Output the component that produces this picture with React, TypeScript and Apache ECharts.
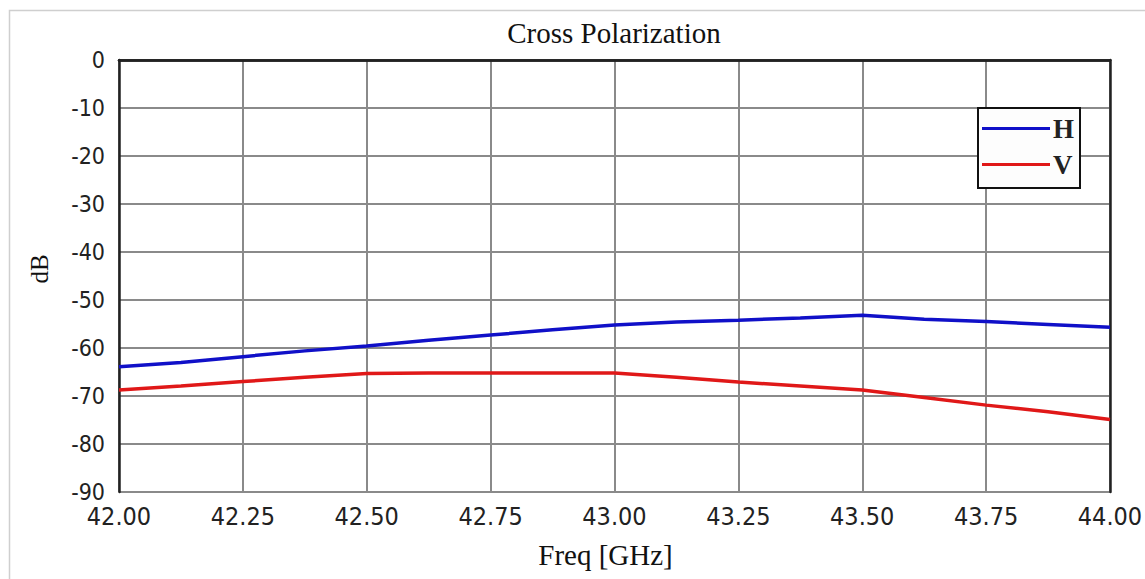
import React, { useEffect, useRef } from "react";
import * as echarts from "echarts";

const freqGHz = [42, 42.125, 42.25, 42.375, 42.5, 42.625, 42.75, 42.875, 43, 43.125, 43.25, 43.375, 43.5, 43.625, 43.75, 43.875, 44];
const hValues = [-63.9, -63.0, -61.8, -60.6, -59.6, -58.4, -57.3, -56.2, -55.2, -54.6, -54.2, -53.75, -53.2, -54.0, -54.5, -55.1, -55.7];
const vValues = [-68.75, -67.9, -67.0, -66.1, -65.3, -65.2, -65.2, -65.2, -65.2, -66.1, -67.1, -67.9, -68.75, -70.3, -71.9, -73.3, -74.9];
const seriesNames = ["H", "V"];
const titleText = "Cross Polarization";
const xName = "Freq [GHz]";
const yName = "dB";

const sansNarrow = '"DejaVu Sans Condensed", "Liberation Sans", sans-serif';
const serif = '"Liberation Serif", "DejaVu Serif", serif';

export default function App() {
  const ref = useRef<HTMLDivElement>(null);
  useEffect(() => {
    if (!ref.current) return;
    const chart = echarts.init(ref.current, null, { renderer: "svg", width: 1145, height: 579 });
    const pair = (vals: number[]) => freqGHz.map((f, i) => [f, vals[i]]);
    chart.setOption({
      animation: false,
      backgroundColor: "#ffffff",
      graphic: [
        {
          type: "rect",
          shape: { x: 9.5, y: 10.5, width: 1300, height: 700 },
          style: { fill: "none", stroke: "#cfcfcf", lineWidth: 1.5 },
          z: 0,
        },
        {
          type: "text",
          x: 614,
          y: 33,
          style: {
            text: titleText,
            fontFamily: serif,
            fontSize: 29,
            fill: "#111",
            textAlign: "center",
            textVerticalAlign: "middle",
          },
        },
      ],
      grid: { left: 119, top: 60, right: 35, bottom: 87, containLabel: false, outerBoundsMode: "none" },
      legend: {
        orient: "vertical",
        left: 978,
        top: 108,
        data: seriesNames.map((n) => ({ name: n, icon: "rect" })),
        itemWidth: 68,
        itemHeight: 3,
        itemGap: 9,
        padding: [7, 6, 10, 4],
        backgroundColor: "#fdfdfd",
        borderColor: "#111",
        borderWidth: 2,
        textStyle: { fontFamily: serif, fontSize: 27, fontWeight: "bold", color: "#222", lineHeight: 26, padding: [0, 0, 0, -2] },
      },
      xAxis: [
        {
          type: "value",
          min: 42,
          max: 44,
          interval: 0.25,
          name: xName,
          nameLocation: "middle",
          nameGap: 48,
          nameTextStyle: { fontFamily: serif, fontSize: 29, color: "#111", padding: [0, 18, 0, 0] },
          axisLine: { show: true, lineStyle: { color: "#222", width: 2.5 } },
          axisTick: { show: false },
          axisLabel: {
            fontFamily: sansNarrow,
            fontSize: 25,
            color: "#222",
            margin: 12,
            formatter: (v: number) => v.toFixed(2),
          },
          splitLine: { show: true, lineStyle: { color: "#8a8a8a", width: 2 } },
        },
        {
          type: "value",
          position: "top",
          min: 42,
          max: 44,
          interval: 0.25,
          axisLine: { show: true, lineStyle: { color: "#222", width: 2.5 } },
          axisTick: { show: false },
          axisLabel: { show: false },
          splitLine: { show: false },
        },
      ],
      yAxis: [
        {
          type: "value",
          min: -90,
          max: 0,
          interval: 10,
          name: yName,
          nameLocation: "middle",
          nameRotate: 90,
          nameGap: 67,
          nameTextStyle: { fontFamily: serif, fontSize: 25, color: "#111", padding: [0, 0, 0, 14] },
          axisLine: { show: true, lineStyle: { color: "#222", width: 2.5 } },
          axisTick: { show: false },
          axisLabel: { fontFamily: sansNarrow, fontSize: 23, color: "#222", margin: 14 },
          splitLine: { show: true, lineStyle: { color: "#8a8a8a", width: 2 } },
        },
        {
          type: "value",
          position: "right",
          min: -90,
          max: 0,
          interval: 10,
          axisLine: { show: true, lineStyle: { color: "#222", width: 2.5 } },
          axisTick: { show: false },
          axisLabel: { show: false },
          splitLine: { show: false },
        },
      ],
      series: [
        {
          name: seriesNames[0],
          type: "line",
          data: pair(hValues),
          showSymbol: false,
          lineStyle: { color: "#1010c8", width: 3.5 },
          itemStyle: { color: "#1010c8" },
          z: 5,
        },
        {
          name: seriesNames[1],
          type: "line",
          data: pair(vValues),
          showSymbol: false,
          lineStyle: { color: "#e01818", width: 3.5 },
          itemStyle: { color: "#e01818" },
          z: 5,
        },
      ],
    });
    return () => chart.dispose();
  }, []);
  return (
    <div
      ref={ref}
      style={{ position: "absolute", left: 0, top: 0, width: 1145, height: 579 }}
    />
  );
}
